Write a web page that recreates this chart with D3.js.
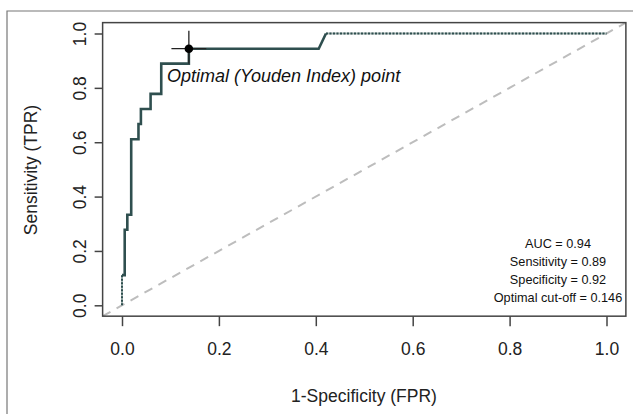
<!DOCTYPE html>
<html><head><meta charset="utf-8">
<script src="https://cdn.jsdelivr.net/npm/d3@7"></script>
<style>body{margin:0;background:#fff}svg{display:block}text{font-family:"Liberation Sans",Arial,sans-serif}</style>
</head><body>
<svg id="c" width="633" height="414"></svg>
<script>
const fpr = [0, 0, 0.0056, 0.0056, 0.011, 0.011, 0.019, 0.019, 0.034, 0.034, 0.039, 0.039, 0.059, 0.059, 0.081, 0.081, 0.138, 0.138, 0.406, 0.421, 1.0];
const tpr = [0, 0.111, 0.111, 0.278, 0.278, 0.333, 0.333, 0.611, 0.611, 0.667, 0.667, 0.722, 0.722, 0.778, 0.778, 0.889, 0.889, 0.944, 0.944, 1.0, 1.0];
const tickValues = [0, 0.2, 0.4, 0.6, 0.8, 1.0];
const optimal = {fpr: 0.138, tpr: 0.944, fprLo: 0.102, fprHi: 0.174, tprLo: 0.889, tprHi: 1.01};
const statsLines = ["AUC = 0.94", "Sensitivity = 0.89", "Specificity = 0.92", "Optimal cut-off = 0.146"];

const svg = d3.select("#c");
const x = d3.scaleLinear().domain([0, 1]).range([122, 606.5]);
const y = d3.scaleLinear().domain([0, 1]).range([305.3, 33.5]);
const x0 = x(-0.04), x1 = x(1.04), y0 = y(-0.04), y1 = y(1.04);

// outer frame
svg.append("path").attr("d", `M7,414 L7,11 L633,11`).attr("fill", "none").attr("stroke", "#777").attr("stroke-width", 1.2);

svg.append("defs").append("clipPath").attr("id", "clip")
  .append("rect").attr("x", x0).attr("y", y1).attr("width", x1 - x0).attr("height", y0 - y1);

const g = svg.append("g").attr("clip-path", "url(#clip)");
// diagonal reference
g.append("line").attr("x1", x(-0.04)).attr("y1", y(-0.04)).attr("x2", x(1.04)).attr("y2", y(1.04))
  .attr("stroke", "#bdbdbd").attr("stroke-width", 2).attr("stroke-dasharray", "9,7");

const pts = fpr.map((f, i) => [f, tpr[i]]);
const line = d3.line().x(d => x(d[0])).y(d => y(d[1]));
const n = pts.length;
// dotted end segments
[pts.slice(0, 2), pts.slice(n - 2)].forEach(seg => {
  g.append("path").attr("d", line(seg)).attr("fill", "none").attr("stroke", "#a9b8b6").attr("stroke-width", 2);
  g.append("path").attr("d", line(seg)).attr("fill", "none").attr("stroke", "#2F4F4F").attr("stroke-width", 2).attr("stroke-dasharray", "2,1.5");
});
// solid curve
g.append("path").attr("d", line(pts.slice(1, n - 1))).attr("fill", "none").attr("stroke", "#2F4F4F").attr("stroke-width", 2.6).attr("stroke-linejoin", "miter");

// optimal point with cross
g.append("line").attr("x1", x(optimal.fprLo)).attr("x2", x(optimal.fprHi)).attr("y1", y(optimal.tpr)).attr("y2", y(optimal.tpr)).attr("stroke", "#222").attr("stroke-width", 1.3);
g.append("line").attr("x1", x(optimal.fpr)).attr("x2", x(optimal.fpr)).attr("y1", y(optimal.tprLo)).attr("y2", y(optimal.tprHi)).attr("stroke", "#222").attr("stroke-width", 1.3);
g.append("circle").attr("cx", x(optimal.fpr)).attr("cy", y(optimal.tpr)).attr("r", 4.3).attr("fill", "#000");

svg.append("text").attr("x", 167).attr("y", 81.5).attr("font-size", 18).attr("font-style", "italic").attr("fill", "#111")
  .text("Optimal (Youden Index) point");

// stats text
statsLines.forEach((t, i) => {
  svg.append("text").attr("x", 558).attr("y", 247.5 + i * 18).attr("text-anchor", "middle").attr("font-size", 12.7).attr("fill", "#111").text(t);
});

// plot box
svg.append("rect").attr("x", x0).attr("y", y1).attr("width", x1 - x0).attr("height", y0 - y1)
  .attr("fill", "none").attr("stroke", "#444").attr("stroke-width", 1.5);

// axes
const xAxis = svg.append("g").attr("transform", `translate(0,${y0})`)
  .call(d3.axisBottom(x).tickValues(tickValues).tickFormat(d3.format(".1f")).tickSize(10).tickPadding(16));
const yAxis = svg.append("g").attr("transform", `translate(${x0},0)`)
  .call(d3.axisLeft(y).tickValues(tickValues).tickFormat(d3.format(".1f")).tickSize(8).tickPadding(12));
[xAxis, yAxis].forEach(a => {
  a.select(".domain").remove();
  a.selectAll(".tick line").attr("stroke", "#444").attr("stroke-width", 1.5);
  a.selectAll(".tick text").attr("font-size", 17.5).attr("fill", "#222").attr("font-family", "Liberation Sans, Arial, sans-serif");
});
yAxis.selectAll(".tick").each(function() {
  const t = d3.select(this).select("text");
  t.attr("x", null).attr("text-anchor", "middle").attr("transform", "translate(-23,0) rotate(-90)").attr("dy", "0.35em");
});

svg.append("text").attr("x", 364).attr("y", 402).attr("text-anchor", "middle").attr("font-size", 17.5).attr("fill", "#222").text("1-Specificity (FPR)");
svg.append("text").attr("transform", "translate(37,170) rotate(-90)").attr("text-anchor", "middle").attr("font-size", 17.5).attr("fill", "#222").text("Sensitivity (TPR)");
</script>
</body></html>
